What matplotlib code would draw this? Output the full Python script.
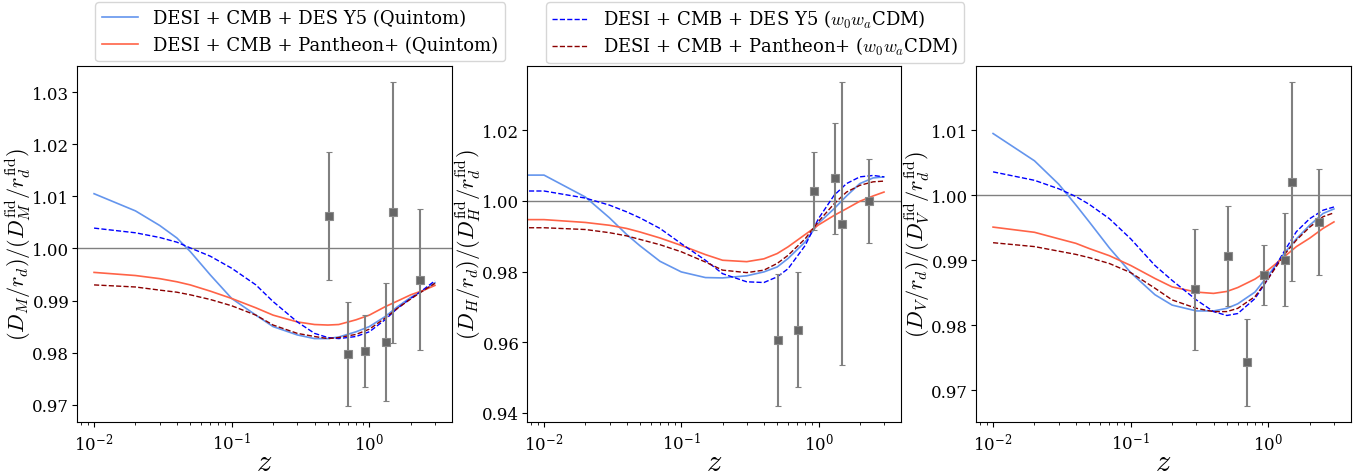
import matplotlib
matplotlib.use("Agg")
import matplotlib.pyplot as plt
from matplotlib.lines import Line2D

plt.rcParams['font.family'] = ['DejaVu Serif']
plt.rcParams['mathtext.fontset'] = 'cm'

# ---------------- data ----------------
z_grid = [0.01, 0.02, 0.03, 0.04, 0.05, 0.07, 0.1, 0.15, 0.2, 0.3, 0.4, 0.5,
          0.6, 0.8, 1.0, 1.3, 1.6, 2.0, 2.5, 3.0]
z_grid_dh = [0.0] + z_grid

# D_M panel
dm_quintom_des = [1.0105, 1.0072, 1.0044, 1.0020, 0.9994, 0.9949, 0.9904, 0.9872, 0.9850, 0.9834,
                  0.9827, 0.9827, 0.9830, 0.9840, 0.9850, 0.9869, 0.9888, 0.9906, 0.9920, 0.9934]
dm_quintom_pan = [0.9954, 0.9948, 0.9942, 0.9936, 0.9930, 0.9918, 0.9904, 0.9886, 0.9872, 0.9859,
                  0.9854, 0.9853, 0.9854, 0.9863, 0.9872, 0.9888, 0.9899, 0.9911, 0.9920, 0.9929]
dm_w0wa_des = [1.0039, 1.0030, 1.0021, 1.0012, 1.0001, 0.9985, 0.9962, 0.9930, 0.9898, 0.9859,
               0.9837, 0.9829, 0.9827, 0.9831, 0.9840, 0.9863, 0.9885, 0.9904, 0.9922, 0.9938]
dm_w0wa_pan = [0.9930, 0.9926, 0.9920, 0.9916, 0.9911, 0.9902, 0.9890, 0.9872, 0.9853, 0.9837,
               0.9831, 0.9827, 0.9829, 0.9835, 0.9845, 0.9866, 0.9885, 0.9903, 0.9920, 0.9933]

# D_H panel (first entry is z = 0)
dh_quintom_des = [1.0073, 1.0073, 1.0011, 0.9952, 0.9905, 0.9873, 0.9829, 0.9799, 0.9783, 0.9782, 0.9788,
                  0.9799, 0.9813, 0.9837, 0.9884, 0.9937, 0.9978, 1.0014, 1.0049, 1.0065, 1.0068]
dh_quintom_pan = [0.9947, 0.9947, 0.9939, 0.9931, 0.9922, 0.9912, 0.9895, 0.9874, 0.9848, 0.9832, 0.9828,
                  0.9836, 0.9851, 0.9870, 0.9905, 0.9932, 0.9959, 0.9978, 0.9999, 1.0014, 1.0025]
dh_w0wa_des = [1.0028, 1.0028, 1.0008, 0.9988, 0.9969, 0.9952, 0.9922, 0.9879, 0.9832, 0.9794, 0.9771,
               0.9769, 0.9785, 0.9808, 0.9874, 0.9950, 1.0016, 1.0049, 1.0068, 1.0072, 1.0068]
dh_w0wa_pan = [0.9924, 0.9924, 0.9919, 0.9910, 0.9901, 0.9891, 0.9876, 0.9856, 0.9827, 0.9804, 0.9797,
               0.9804, 0.9823, 0.9846, 0.9893, 0.9942, 0.9992, 1.0025, 1.0044, 1.0054, 1.0056]

# D_V panel
dv_quintom_des = [1.0095, 1.0053, 1.0017, 0.9985, 0.9959, 0.9919, 0.9881, 0.9847, 0.9831, 0.9822,
                  0.9822, 0.9826, 0.9833, 0.9851, 0.9877, 0.9910, 0.9933, 0.9954, 0.9972, 0.9979]
dv_quintom_pan = [0.9951, 0.9943, 0.9933, 0.9926, 0.9918, 0.9907, 0.9892, 0.9872, 0.9859, 0.9851,
                  0.9849, 0.9852, 0.9858, 0.9871, 0.9885, 0.9905, 0.9921, 0.9934, 0.9949, 0.9959]
dv_w0wa_des = [1.0036, 1.0023, 1.0010, 0.9998, 0.9986, 0.9964, 0.9933, 0.9892, 0.9869, 0.9839,
               0.9821, 0.9815, 0.9818, 0.9841, 0.9872, 0.9913, 0.9944, 0.9964, 0.9977, 0.9982]
dv_w0wa_pan = [0.9927, 0.9921, 0.9914, 0.9909, 0.9904, 0.9895, 0.9881, 0.9857, 0.9839, 0.9826,
               0.9821, 0.9821, 0.9826, 0.9844, 0.9872, 0.9908, 0.9931, 0.9951, 0.9967, 0.9973]

# DESI measurements
z_dm = [0.51, 0.706, 0.934, 1.321, 1.484, 2.33]
dm_val = [1.0062, 0.9798, 0.9803, 0.9821, 1.0069, 0.9940]
dm_err = [0.0123, 0.0100, 0.0069, 0.0113, 0.0250, 0.0135]

z_dh = [0.51, 0.706, 0.934, 1.321, 1.484, 2.33]
dh_val = [0.9607, 0.9636, 1.0028, 1.0064, 0.9936, 1.0000]
dh_err = [0.0187, 0.0164, 0.0110, 0.0157, 0.0400, 0.0118]

z_dv = [0.295, 0.51, 0.706, 0.934, 1.321, 1.484, 2.33]
dv_val = [0.9855, 0.9907, 0.9743, 0.9877, 0.9901, 1.0021, 0.9959]
dv_err = [0.0093, 0.0077, 0.0067, 0.0046, 0.0071, 0.0153, 0.0082]

yticks_dm = [0.97, 0.98, 0.99, 1.00, 1.01, 1.02, 1.03]
yticks_dh = [0.94, 0.96, 0.98, 1.00, 1.02]
yticks_dv = [0.97, 0.98, 0.99, 1.00, 1.01]

labels = ["DESI + CMB + DES Y5 (Quintom)",
          "DESI + CMB + Pantheon+ (Quintom)",
          "DESI + CMB + DES Y5 ($w_0w_a$CDM)",
          "DESI + CMB + Pantheon+ ($w_0w_a$CDM)"]

ylabels = [r"$(D_M/r_d)/(D_M^{\rm fid}/r_d^{\rm fid})$",
           r"$(D_H/r_d)/(D_H^{\rm fid}/r_d^{\rm fid})$",
           r"$(D_V/r_d)/(D_V^{\rm fid}/r_d^{\rm fid})$"]

# ---------------- plot ----------------
W, H = 1360, 477
fig = plt.figure(figsize=(W / 100, H / 100), dpi=100)

lefts = [77, 527, 976]
widths = [375, 374, 375]
ax_bottom = (H - 423) / H
ax_height = (423 - 67) / H

panels = [
    (z_grid, [dm_quintom_des, dm_quintom_pan, dm_w0wa_des, dm_w0wa_pan], z_dm, dm_val, dm_err, yticks_dm),
    (z_grid_dh, [dh_quintom_des, dh_quintom_pan, dh_w0wa_des, dh_w0wa_pan], z_dh, dh_val, dh_err, yticks_dh),
    (z_grid, [dv_quintom_des, dv_quintom_pan, dv_w0wa_des, dv_w0wa_pan], z_dv, dv_val, dv_err, yticks_dv),
]

styles = [dict(color='cornflowerblue', ls='-', lw=1.2),
          dict(color='tomato', ls='-', lw=1.2),
          dict(color='blue', ls='--', lw=1.0),
          dict(color='darkred', ls='--', lw=1.0)]

for i, (zc, curves, zp, vp, ep, yt) in enumerate(panels):
    ax = fig.add_axes([lefts[i] / W, ax_bottom, widths[i] / W, ax_height])
    ax.set_xscale('log')
    ax.axhline(1.0, color='gray', lw=1.0, zorder=1)
    for c, st in zip(curves, styles):
        ax.plot(zc, c, zorder=2, **st)
    ax.errorbar(zp, vp, yerr=ep, fmt='s', color='#666666', ecolor='gray',
                elinewidth=1.5, capsize=2, markersize=6, mec='#8a8a8a', mew=0.8, zorder=3)
    ax.set_xlim(10 ** -2.124, 10 ** 0.601)
    ax.set_yticks(yt)
    ax.tick_params(labelsize=12)
    ax.tick_params(axis='y', pad=2)
    ax.set_xlabel(r"$z$", fontsize=22)
    ax.xaxis.set_label_coords(0.5, -0.068)
    ax.set_ylabel(ylabels[i], fontsize=16)
    ax.yaxis.set_label_coords(-0.118, 0.5)

h = [Line2D([], [], **st) for st in styles]
fig.legend(handles=h[:2], labels=labels[:2], loc='upper left',
           bbox_to_anchor=(95 / W, 1 - 3 / H), borderaxespad=0, fontsize=13)
fig.legend(handles=h[2:], labels=labels[2:], loc='upper left',
           bbox_to_anchor=(546 / W, 1 - 3 / H), borderaxespad=0, fontsize=13,
           labelspacing=0.25, borderpad=0.35)

fig.savefig("out.png", dpi=100)
